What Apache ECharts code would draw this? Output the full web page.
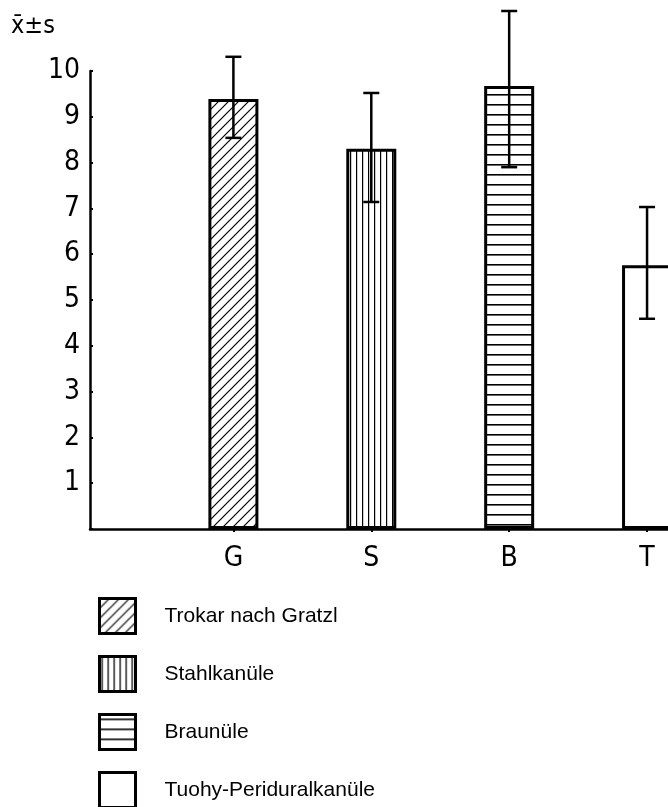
<!DOCTYPE html>
<html style="height: 100%">
<head>
    <meta charset="utf-8">
    <style>
        body { margin: 0; background: #fff; }
        #main { width: 668px; height: 807px; }
    </style>
    <script type="text/javascript" src="https://cdn.jsdelivr.net/npm/echarts@6/dist/echarts.min.js"></script>
</head>
<body>
<div id="main"></div>
<script type="text/javascript">
    // data
    var categories = ['G', 'S', 'B', 'T'];
    var names = ['Trokar nach Gratzl', 'Stahlkanüle', 'Braunüle', 'Tuohy-Periduralkanüle'];
    var means = [9.39, 8.30, 9.67, 5.76];
    var errLow = [8.54, 7.14, 7.90, 4.59];
    var errHigh = [10.31, 9.52, 11.31, 7.03];
    var yTicks = [0, 1, 2, 3, 4, 5, 6, 7, 8, 9, 10];

    var digitFont = '"Liberation Sans Narrow", "DejaVu Sans Condensed", sans-serif';

    // hatch patterns drawn on small canvases
    function makePattern(kind) {
        var c = document.createElement('canvas');
        var ctx;
        if (kind === 'diag') {
            c.width = 10; c.height = 10;
            ctx = c.getContext('2d');
            ctx.fillStyle = '#fff'; ctx.fillRect(0, 0, 10, 10);
            ctx.strokeStyle = '#000'; ctx.lineWidth = 1.2;
            ctx.beginPath();
            ctx.moveTo(-5, 5); ctx.lineTo(5, -5);
            ctx.moveTo(0, 10); ctx.lineTo(10, 0);
            ctx.moveTo(5, 15); ctx.lineTo(15, 5);
            ctx.stroke();
        } else if (kind === 'vert') {
            c.width = 6; c.height = 6;
            ctx = c.getContext('2d');
            ctx.fillStyle = '#fff'; ctx.fillRect(0, 0, 6, 6);
            ctx.fillStyle = '#000'; ctx.fillRect(2, 0, 1.2, 6);
        } else {
            c.width = 10; c.height = 10;
            ctx = c.getContext('2d');
            ctx.fillStyle = '#fff'; ctx.fillRect(0, 0, 10, 10);
            ctx.fillStyle = '#000'; ctx.fillRect(0, 4, 10, 1.6);
        }
        return {image: c, repeat: 'repeat'};
    }

    var fills = [makePattern('diag'), makePattern('vert'), makePattern('horiz'), '#fff'];

    var dom = document.getElementById('main');
    var myChart = echarts.init(dom, null, {renderer: 'canvas'});

    var series = [];
    for (var i = 0; i < categories.length; i++) {
        series.push({
            name: names[i],
            type: 'bar',
            barWidth: 50,
            barGap: '-100%',
            data: [[i + 1, means[i]]],
            itemStyle: {
                color: fills[i],
                borderColor: '#000',
                borderWidth: 3
            },
            emphasis: {disabled: true}
        });
    }

    // error bars (mean ± s)
    series.push({
        type: 'custom',
        clip: false,
        z: 5,
        data: categories.map(function (c, i) {
            return [i + 1, errLow[i], errHigh[i]];
        }),
        renderItem: function (params, api) {
            var x = api.value(0);
            var lo = api.coord([x, api.value(1)]);
            var hi = api.coord([x, api.value(2)]);
            var cap = 8;
            var st = {stroke: '#000', lineWidth: 2.5};
            return {
                type: 'group',
                children: [
                    {type: 'line', shape: {x1: hi[0], y1: hi[1], x2: lo[0], y2: lo[1]}, style: st},
                    {type: 'line', shape: {x1: hi[0] - cap, y1: hi[1], x2: hi[0] + cap, y2: hi[1]}, style: st},
                    {type: 'line', shape: {x1: lo[0] - cap, y1: lo[1], x2: lo[0] + cap, y2: lo[1]}, style: st}
                ]
            };
        }
    });

    var option = {
        backgroundColor: '#fff',
        animation: false,
        title: {
            text: 'x\u0304\u00b1s',
            left: 6,
            top: 9,
            textStyle: {
                fontFamily: digitFont,
                fontSize: 25,
                fontWeight: 'normal',
                color: '#000'
            }
        },
        legend: {
            orient: 'vertical',
            left: 98,
            top: 597,
            height: 240,
            padding: 0,
            itemWidth: 36,
            itemHeight: 35,
            itemGap: 20,
            icon: 'rect',
            selectedMode: false,
            data: names,
            itemStyle: {borderColor: '#000', borderWidth: 3},
            textStyle: {
                fontFamily: '"Liberation Sans", Arial, sans-serif',
                fontSize: 21,
                color: '#000',
                padding: [0, 0, 0, 24]
            }
        },
        grid: {
            left: 90,
            top: 71,
            bottom: 278,
            width: 626,
            outerBoundsMode: 'none'
        },
        xAxis: {
            type: 'value',
            min: -0.04,
            max: 4.5,
            splitLine: {show: false},
            axisLine: {show: true, lineStyle: {color: '#000', width: 2.5}},
            axisTick: {
                show: true,
                customValues: [1, 2, 3, 4],
                length: 3,
                lineStyle: {color: '#000', width: 2}
            },
            axisLabel: {
                customValues: [1, 2, 3, 4],
                margin: 16,
                fontFamily: digitFont,
                fontSize: 28,
                color: '#000',
                formatter: function (v) {
                    return categories[Math.round(v) - 1] || '';
                }
            }
        },
        yAxis: {
            type: 'value',
            min: yTicks[0],
            max: yTicks[yTicks.length - 1],
            interval: 1,
            splitLine: {show: false},
            axisLine: {show: true, onZero: false, lineStyle: {color: '#000', width: 2.5}},
            axisTick: {show: true, inside: true, length: 3, lineStyle: {color: '#000', width: 2}},
            axisLabel: {
                margin: 10,
                fontFamily: digitFont,
                fontSize: 28,
                color: '#000',
                formatter: function (v) {
                    return v === 0 ? '' : String(v);
                }
            }
        },
        series: series
    };

    if (option && typeof option === "object") {
        myChart.setOption(option, true);
    }
</script>
</body>
</html>
